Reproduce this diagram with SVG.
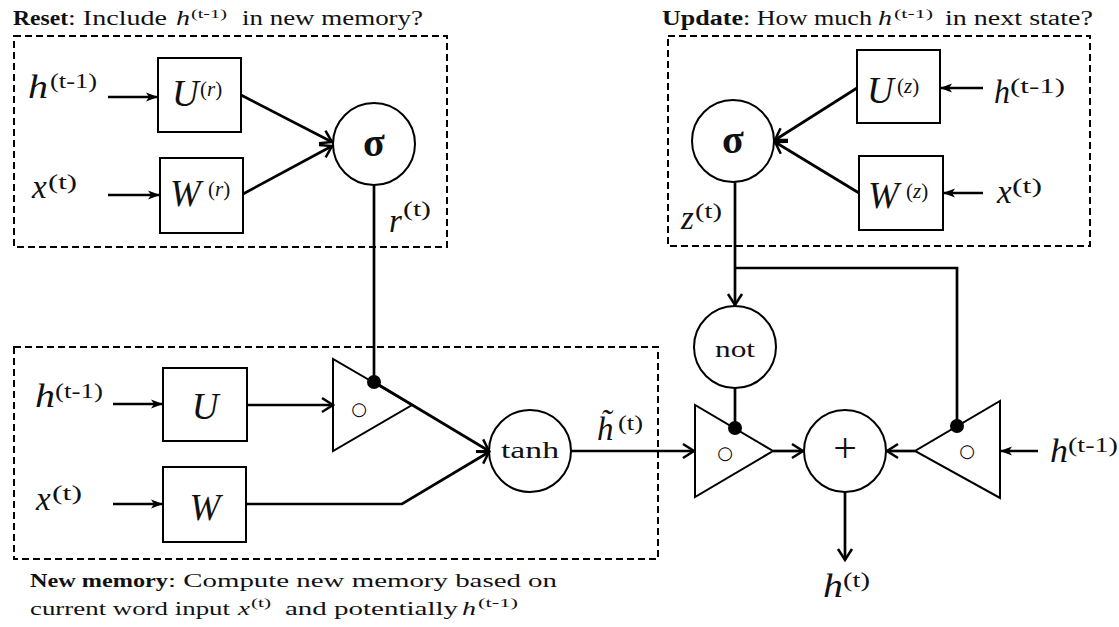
<svg xmlns="http://www.w3.org/2000/svg" width="1119" height="627" viewBox="0 0 1119 627">
<style>
text{font-family:"Liberation Serif","DejaVu Serif",serif;fill:#111}
.b{font-weight:bold;font-size:20px}
.t{font-size:20px}
.c{font-size:19px}
.mi{font-style:italic;font-size:33px}
.big{font-style:italic;font-size:37px}
.sup{font-size:21px}
.sups{font-size:13px}
.sig{font-weight:bold;font-size:40px;text-anchor:middle}
.fn{font-size:24px;text-anchor:middle}
.op{font-family:"DejaVu Sans",sans-serif;font-size:18px;font-weight:bold;text-anchor:middle;fill:#000}
.box{fill:#fff;stroke:#000;stroke-width:2}
.nd{fill:#fff;stroke:#000;stroke-width:2}
.dash{fill:none;stroke:#000;stroke-width:2;stroke-dasharray:7 4}
.ln{fill:none;stroke:#000;stroke-width:2.7}
.ac{marker-end:url(#chev)}
.af{marker-end:url(#stl)}
.dot{fill:#000}
</style>
<defs>
<marker id="chev" markerUnits="userSpaceOnUse" orient="auto" overflow="visible" refX="0" refY="0" markerWidth="14" markerHeight="16">
<path d="M-11,-7 L0,0 L-11,7" fill="none" stroke="#000" stroke-width="2.5"/>
</marker>
<marker id="stl" markerUnits="userSpaceOnUse" orient="auto" overflow="visible" refX="0" refY="0" markerWidth="14" markerHeight="10">
<path d="M-12,-4.5 L0,0 L-12,4.5 L-9,0 Z" fill="#000"/>
</marker>
</defs>
<rect width="1119" height="627" fill="#fff"/>

<g id="reset-gate">
<rect class="dash" x="14" y="36" width="433" height="211"/>
<text class="b" x="13" y="25" textLength="55" lengthAdjust="spacingAndGlyphs">Reset</text>
<text class="t" x="68" y="25" textLength="99" lengthAdjust="spacingAndGlyphs">: Include</text>
<text class="t" x="176" y="25" font-style="italic" textLength="14" lengthAdjust="spacingAndGlyphs">h</text>
<text class="sups" x="191" y="18" textLength="36" lengthAdjust="spacingAndGlyphs">(t-1)</text>
<text class="t" x="242" y="25" textLength="181" lengthAdjust="spacingAndGlyphs">in new memory?</text>
</g>
<g id="reset-h-input"><text class="mi" x="28" y="98" textLength="20" lengthAdjust="spacingAndGlyphs">h</text><text class="sup" x="50" y="88" textLength="47" lengthAdjust="spacingAndGlyphs">(t-1)</text></g>
<g id="reset-x-input"><text class="mi" x="32" y="198">x</text><text class="sup" x="48" y="189" textLength="29" lengthAdjust="spacingAndGlyphs">(t)</text></g>
<g id="U_r"><rect class="box" x="158" y="58" width="83" height="74"/><text class="big" x="172" y="106">U</text><text class="sup" x="200" y="96" font-size="22">(<tspan font-style="italic">r</tspan>)</text></g>
<g id="W_r"><rect class="box" x="160" y="158" width="83" height="75"/><text class="big" x="170" y="206">W</text><text class="sup" x="208" y="196" font-size="22">(<tspan font-style="italic">r</tspan>)</text></g>
<g id="sigma_r"><circle class="nd" cx="374" cy="144" r="41"/><text class="sig" x="374" y="156">σ</text></g>
<g id="r_label"><text class="mi" x="389" y="232">r</text><text class="sup" x="403" y="216" textLength="28" lengthAdjust="spacingAndGlyphs">(t)</text></g>

<g id="update-gate">
<rect class="dash" x="668" y="36" width="422" height="210"/>
<text class="b" x="662" y="25" textLength="81" lengthAdjust="spacingAndGlyphs">Update</text>
<text class="t" x="743" y="25" textLength="129" lengthAdjust="spacingAndGlyphs">: How much</text>
<text class="t" x="878" y="25" font-style="italic" textLength="14" lengthAdjust="spacingAndGlyphs">h</text>
<text class="sups" x="894" y="18" textLength="39" lengthAdjust="spacingAndGlyphs">(t-1)</text>
<text class="t" x="945" y="25" textLength="148" lengthAdjust="spacingAndGlyphs">in next state?</text>
</g>
<g id="update-h-input"><text class="mi" x="994" y="103" textLength="16" lengthAdjust="spacingAndGlyphs">h</text><text class="sup" x="1010" y="93" textLength="55" lengthAdjust="spacingAndGlyphs">(t-1)</text></g>
<g id="update-x-input"><text class="mi" x="997" y="203">x</text><text class="sup" x="1012" y="193" textLength="30" lengthAdjust="spacingAndGlyphs">(t)</text></g>
<g id="U_z"><rect class="box" x="857" y="50" width="83" height="73"/><text class="big" x="867" y="103">U</text><text class="sup" x="897" y="93" font-size="22">(<tspan font-style="italic">z</tspan>)</text></g>
<g id="W_z"><rect class="box" x="859" y="156" width="84" height="74"/><text class="big" x="868" y="208">W</text><text class="sup" x="906" y="198" font-size="22">(<tspan font-style="italic">z</tspan>)</text></g>
<g id="sigma_z"><circle class="nd" cx="733" cy="141" r="41"/><text class="sig" x="733" y="153">σ</text></g>
<g id="z_label"><text class="mi" x="681" y="229">z</text><text class="sup" x="695" y="218" textLength="27" lengthAdjust="spacingAndGlyphs">(t)</text></g>

<g id="new-memory">
<rect class="dash" x="14" y="347" width="644" height="212"/>
<text class="b" x="30" y="587" style="font-size:19px" textLength="138" lengthAdjust="spacingAndGlyphs">New memory</text>
<text class="c" x="168" y="587" textLength="389" lengthAdjust="spacingAndGlyphs">: Compute new memory based on</text>
<text class="c" x="30" y="615" textLength="200" lengthAdjust="spacingAndGlyphs">current word input</text>
<text class="c" x="238" y="615" font-style="italic" textLength="12" lengthAdjust="spacingAndGlyphs">x</text>
<text class="sups" x="251" y="607" textLength="20" lengthAdjust="spacingAndGlyphs">(t)</text>
<text class="c" x="285" y="615" textLength="173" lengthAdjust="spacingAndGlyphs">and potentially</text>
<text class="c" x="462" y="615" font-style="italic" textLength="14" lengthAdjust="spacingAndGlyphs">h</text>
<text class="sups" x="478" y="607" textLength="40" lengthAdjust="spacingAndGlyphs">(t-1)</text>
</g>
<g id="nm-h-input"><text class="mi" x="35" y="407" textLength="20" lengthAdjust="spacingAndGlyphs">h</text><text class="sup" x="55" y="398" textLength="48" lengthAdjust="spacingAndGlyphs">(t-1)</text></g>
<g id="nm-x-input"><text class="mi" x="36" y="510">x</text><text class="sup" x="52" y="500" textLength="30" lengthAdjust="spacingAndGlyphs">(t)</text></g>
<g id="U"><rect class="box" x="163" y="368" width="84" height="73"/><text class="big" x="205" y="419" text-anchor="middle">U</text></g>
<g id="W"><rect class="box" x="163" y="467" width="83" height="75"/><text class="big" x="205" y="520" text-anchor="middle">W</text></g>
<g id="reset-mult"><polygon class="nd" points="333,359 333,451 412,405"/><text class="op" x="359" y="415">○</text></g>
<g id="tanh"><circle class="nd" cx="530" cy="451" r="41"/><text class="fn" x="530" y="458" textLength="58" lengthAdjust="spacingAndGlyphs">tanh</text></g>
<g id="htilde_label"><text class="mi" x="597" y="440">h&#x303;</text><text class="sup" x="618" y="430" textLength="25" lengthAdjust="spacingAndGlyphs">(t)</text></g>

<g id="not"><circle class="nd" cx="735" cy="347" r="41"/><text class="fn" x="735" y="357" textLength="40" lengthAdjust="spacingAndGlyphs">not</text></g>
<g id="mult-new"><polygon class="nd" points="695,405 695,497 773,451"/><text class="op" x="725" y="459">○</text></g>
<g id="plus"><circle class="nd" cx="845" cy="451" r="41"/><text x="845" y="462" font-size="42" text-anchor="middle">+</text></g>
<g id="mult-old"><polygon class="nd" points="1000,401 1000,498 915,451"/><text class="op" x="967" y="457">○</text></g>
<g id="h-prev-right"><text class="mi" x="1050" y="462" textLength="18" lengthAdjust="spacingAndGlyphs">h</text><text class="sup" x="1068" y="452" textLength="50" lengthAdjust="spacingAndGlyphs">(t-1)</text></g>
<g id="h-out"><text class="mi" x="823" y="597" textLength="20" lengthAdjust="spacingAndGlyphs">h</text><text class="sup" x="843" y="587" textLength="27" lengthAdjust="spacingAndGlyphs">(t)</text></g>

<g id="connectors">
<line class="ln af" x1="108" y1="97" x2="158" y2="97"/>
<line class="ln af" x1="108" y1="195" x2="160" y2="195"/>
<line class="ln ac" x1="241" y1="95" x2="332" y2="142"/>
<line class="ln ac" x1="243" y1="194" x2="332" y2="146"/>
<line class="ln" x1="374" y1="185" x2="374" y2="382"/>
<line class="ln af" x1="983" y1="88" x2="940" y2="88"/>
<line class="ln af" x1="983" y1="193" x2="943" y2="193"/>
<line class="ln ac" x1="857" y1="88" x2="775" y2="140"/>
<line class="ln ac" x1="859" y1="193" x2="775" y2="142"/>
<line class="ln ac" x1="735" y1="182" x2="735" y2="305"/>
<polyline class="ln" points="735,268 957,268 957,426"/>
<line class="ln af" x1="113" y1="404" x2="163" y2="404"/>
<line class="ln af" x1="113" y1="504" x2="163" y2="504"/>
<line class="ln ac" x1="247" y1="405" x2="333" y2="405"/>
<line class="ln ac" x1="374" y1="382" x2="489" y2="451"/>
<polyline class="ln ac" points="246,504 402,504 489,452"/>
<line class="ln ac" x1="571" y1="451" x2="694" y2="451"/>
<line class="ln" x1="735" y1="388" x2="735" y2="428"/>
<line class="ln ac" x1="773" y1="451" x2="803" y2="451"/>
<line class="ln ac" x1="915" y1="451" x2="887" y2="451"/>
<line class="ln af" x1="1038" y1="451" x2="1000" y2="451"/>
<line class="ln ac" x1="845" y1="492" x2="845" y2="560"/>
<circle class="dot" cx="374" cy="382" r="7"/>
<circle class="dot" cx="735" cy="428" r="7"/>
<circle class="dot" cx="957" cy="426" r="7"/>
</g>
</svg>
